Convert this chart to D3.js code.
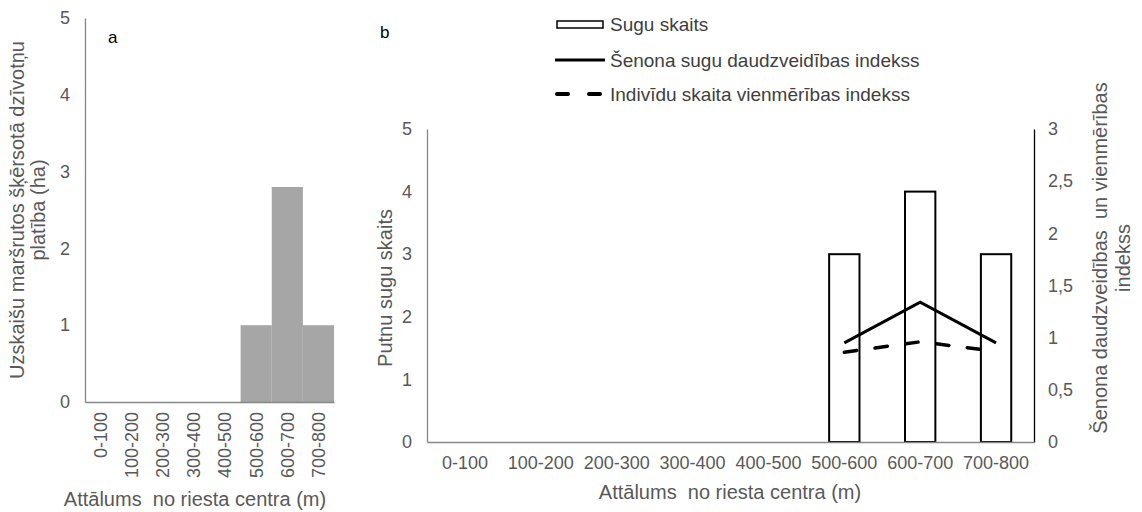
<!DOCTYPE html>
<html><head><meta charset="utf-8">
<script src="https://cdn.jsdelivr.net/npm/d3@7"></script>
<style>
html,body{margin:0;padding:0;background:#fff;}
svg{display:block;font-family:"Liberation Sans",Arial,sans-serif;}
text{white-space:pre;}
</style></head>
<body><svg id="c" width="1142" height="512"></svg>
<script>
const categories = ["0-100","100-200","200-300","300-400","400-500","500-600","600-700","700-800"];
const areaHa = [0,0,0,0,0,1,2.8,1];
const speciesCount = [0,0,0,0,0,3,4,3];
const shannonIndex = [null,null,null,null,null,0.95,1.34,0.95];
const evennessIndex = [null,null,null,null,null,0.86,0.96,0.87];
const leftTicksA = [0,1,2,3,4,5];
const leftTicksB = [0,1,2,3,4,5];
const rightTicksB = [0,0.5,1,1.5,2,2.5,3];
const legendLabels = ["Sugu skaits","Šenona sugu daudzveidības indekss","Indivīdu skaita vienmērības indekss"];

const svg = d3.select("#c");
const grey = "#595959", axisCol = "#868686";
const tickFs = 18, titleFs = 20;

// ---------- Panel a ----------
const xa = d3.scaleBand().domain(categories).range([85,334]).padding(0);
const ya = d3.scaleLinear().domain([0,5]).range([402,18]);
const ga = svg.append("g");
ga.selectAll("rect.bar").data(categories).join("rect")
  .attr("x", d=>xa(d)).attr("width", xa.bandwidth())
  .attr("y", (d,i)=>ya(areaHa[i])).attr("height",(d,i)=>ya(0)-ya(areaHa[i]))
  .attr("fill","#a6a6a6");
const axA = ga.append("g").attr("transform","translate(85,0)")
  .call(d3.axisLeft(ya).tickValues(leftTicksA).tickSize(0).tickPadding(15).tickFormat(d3.format("d")));
axA.select(".domain").attr("stroke",axisCol).attr("stroke-width",1.3);
axA.selectAll("text").attr("fill",grey).attr("font-size",tickFs).attr("font-family","Liberation Sans, Arial");
const axAx = ga.append("g").attr("transform","translate(0,402)")
  .call(d3.axisBottom(xa).tickSize(0).tickPadding(10));
axAx.select(".domain").attr("stroke",axisCol).attr("stroke-width",1.3);
axAx.selectAll("text").attr("fill",grey).attr("font-size",tickFs).attr("font-family","Liberation Sans, Arial")
  .attr("transform","rotate(-90)").attr("text-anchor","end")
  .attr("x",-10).attr("y",0).attr("dy","0.35em");
ga.append("text").text("a").attr("x",108).attr("y",43).attr("font-size",17).attr("fill","#000");
ga.append("text").attr("transform","translate(195,506)").attr("text-anchor","middle")
  .attr("font-size",titleFs).attr("fill",grey).text("Attālums  no riesta centra (m)");
const ta = ga.append("text").attr("transform","translate(0,210) rotate(-90)").attr("text-anchor","middle")
  .attr("font-size",titleFs).attr("fill",grey);
ta.append("tspan").attr("x",0).attr("y",24).text("Uzskaišu maršrutos šķērsotā dzīvotņu");
ta.append("tspan").attr("x",0).attr("y",45).text("platība (ha)");

// ---------- Panel b ----------
const xb = d3.scaleBand().domain(categories).range([427,1034]).paddingInner(0.6).paddingOuter(0.3);
const xbFull = d3.scaleBand().domain(categories).range([427,1034]).padding(0);
const yb = d3.scaleLinear().domain([0,5]).range([442,129]);
const yr = d3.scaleLinear().domain([0,3]).range([442,129]);
const gb = svg.append("g");
gb.selectAll("rect.bar").data(categories.filter((d,i)=>speciesCount[i]>0)).join("rect")
  .attr("x", d=>xb(d)).attr("width", xb.bandwidth())
  .attr("y", d=>yb(speciesCount[categories.indexOf(d)]))
  .attr("height", d=>yb(0)-yb(speciesCount[categories.indexOf(d)]))
  .attr("fill","#fff").attr("stroke","#000").attr("stroke-width",2);
const cx = d=>xbFull(d)+xbFull.bandwidth()/2;
const lineGen = arr => d3.line().defined((d,i)=>arr[i]!=null).x(d=>cx(d)).y((d,i)=>yr(arr[i]));
gb.append("path").datum(categories).attr("d",lineGen(shannonIndex)).attr("fill","none")
  .attr("stroke","#000").attr("stroke-width",3);
gb.append("path").datum(categories).attr("d",lineGen(evennessIndex)).attr("fill","none")
  .attr("stroke","#000").attr("stroke-width",3.5).attr("stroke-dasharray","12.5,18.5").attr("stroke-linecap","round");

const axB = gb.append("g").attr("transform","translate(427,0)")
  .call(d3.axisLeft(yb).tickValues(leftTicksB).tickSize(0).tickPadding(15).tickFormat(d3.format("d")));
axB.select(".domain").attr("stroke",axisCol).attr("stroke-width",1.3);
axB.selectAll("text").attr("fill",grey).attr("font-size",tickFs).attr("font-family","Liberation Sans, Arial");
const axR = gb.append("g").attr("transform","translate(1034,0)")
  .call(d3.axisRight(yr).tickValues(rightTicksB).tickSize(0).tickPadding(14).tickFormat(d=>String(d).replace(".",",")));
axR.select(".domain").attr("stroke","#000").attr("stroke-width",1.3);
axR.selectAll("text").attr("fill",grey).attr("font-size",tickFs).attr("font-family","Liberation Sans, Arial");
const axBx = gb.append("g").attr("transform","translate(0,442)")
  .call(d3.axisBottom(xbFull).tickSize(0).tickPadding(14));
axBx.select(".domain").attr("stroke",axisCol).attr("stroke-width",1.3);
axBx.selectAll("text").attr("fill",grey).attr("font-size",tickFs).attr("font-family","Liberation Sans, Arial");
gb.append("text").text("b").attr("x",380).attr("y",38).attr("font-size",17).attr("fill","#000");
gb.append("text").attr("transform","translate(730,499)").attr("text-anchor","middle")
  .attr("font-size",titleFs).attr("fill",grey).text("Attālums  no riesta centra (m)");
gb.append("text").attr("transform","translate(392,288) rotate(-90)").attr("text-anchor","middle")
  .attr("font-size",titleFs).attr("fill",grey).text("Putnu sugu skaits");
const tr = gb.append("text").attr("transform","translate(1100,258) rotate(-90)").attr("text-anchor","middle")
  .attr("font-size",titleFs).attr("fill",grey);
tr.append("tspan").attr("x",0).attr("y",7).text("Šenona daudzveidības  un vienmērības");
tr.append("tspan").attr("x",0).attr("y",30).text("indekss");

// ---------- Legend ----------
const lg = svg.append("g");
const rows = [24,60,94];
lg.append("rect").attr("x",557).attr("y",rows[0]-3).attr("width",46).attr("height",7)
  .attr("fill","#fff").attr("stroke","#000").attr("stroke-width",1.5);
lg.append("line").attr("x1",555).attr("x2",605).attr("y1",rows[1]).attr("y2",rows[1])
  .attr("stroke","#000").attr("stroke-width",3);
lg.append("line").attr("x1",557).attr("x2",605).attr("y1",rows[2]).attr("y2",rows[2])
  .attr("stroke","#000").attr("stroke-width",4).attr("stroke-dasharray","11,21").attr("stroke-linecap","round");
lg.selectAll("text.l").data(legendLabels).join("text")
  .attr("x",610).attr("y",(d,i)=>rows[i]).attr("dy","0.35em")
  .attr("font-size",19).attr("fill","#404040").text(d=>d);
</script></body></html>
